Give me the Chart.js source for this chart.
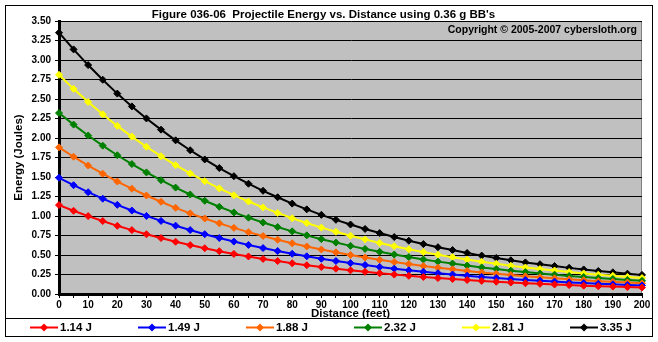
<!DOCTYPE html>
<html>
<head>
<meta charset="utf-8">
<script src="https://cdn.jsdelivr.net/npm/chart.js@4"></script>
<style>
  html, body { margin: 0; padding: 0; background: #fff; }
</style>
</head>
<body>
<canvas id="chart" width="658" height="342"></canvas>
<script>
// distance in feet, one point every 5 ft
const distances = [0, 5, 10, 15, 20, 25, 30, 35, 40, 45, 50, 55, 60, 65, 70, 75, 80, 85, 90, 95,
  100, 105, 110, 115, 120, 125, 130, 135, 140, 145, 150, 155, 160, 165, 170, 175, 180, 185, 190, 195, 200];

// energy in joules
const e114 = [1.14, 1.067, 0.999, 0.935, 0.874, 0.819, 0.766, 0.717, 0.670, 0.627, 0.587, 0.549, 0.514, 0.481,
  0.450, 0.422, 0.394, 0.369, 0.345, 0.324, 0.303, 0.284, 0.266, 0.249, 0.233, 0.218, 0.204, 0.192, 0.179,
  0.168, 0.157, 0.147, 0.138, 0.130, 0.122, 0.114, 0.107, 0.100, 0.095, 0.089, 0.083];
const e149 = [1.49, 1.395, 1.305, 1.222, 1.143, 1.070, 1.001, 0.937, 0.876, 0.820, 0.767, 0.718, 0.672, 0.629,
  0.589, 0.551, 0.516, 0.483, 0.451, 0.423, 0.396, 0.371, 0.347, 0.325, 0.304, 0.285, 0.267, 0.250, 0.234,
  0.219, 0.206, 0.192, 0.180, 0.170, 0.159, 0.149, 0.140, 0.131, 0.124, 0.116, 0.109];
const e188 = [1.88, 1.760, 1.647, 1.542, 1.442, 1.350, 1.263, 1.183, 1.105, 1.034, 0.968, 0.906, 0.848, 0.793,
  0.743, 0.696, 0.650, 0.609, 0.570, 0.534, 0.500, 0.468, 0.438, 0.410, 0.384, 0.359, 0.337, 0.316, 0.295,
  0.276, 0.259, 0.243, 0.227, 0.214, 0.201, 0.188, 0.177, 0.165, 0.156, 0.147, 0.137];
const e232 = [2.32, 2.172, 2.032, 1.902, 1.779, 1.666, 1.559, 1.459, 1.364, 1.276, 1.195, 1.118, 1.046, 0.979,
  0.916, 0.858, 0.803, 0.752, 0.703, 0.659, 0.617, 0.578, 0.541, 0.506, 0.473, 0.443, 0.415, 0.390, 0.364,
  0.341, 0.320, 0.299, 0.281, 0.264, 0.248, 0.232, 0.218, 0.204, 0.193, 0.181, 0.169];
const e281 = [2.81, 2.630, 2.462, 2.304, 2.155, 2.018, 1.888, 1.767, 1.652, 1.546, 1.447, 1.354, 1.267, 1.186,
  1.110, 1.040, 0.972, 0.910, 0.851, 0.798, 0.747, 0.700, 0.655, 0.613, 0.573, 0.537, 0.503, 0.472, 0.441,
  0.413, 0.388, 0.362, 0.340, 0.320, 0.301, 0.281, 0.264, 0.247, 0.233, 0.219, 0.205];
const e335 = [3.35, 3.136, 2.935, 2.747, 2.569, 2.405, 2.251, 2.107, 1.970, 1.843, 1.725, 1.615, 1.511, 1.414,
  1.323, 1.240, 1.159, 1.085, 1.015, 0.951, 0.891, 0.834, 0.781, 0.730, 0.683, 0.640, 0.600, 0.563, 0.526,
  0.492, 0.462, 0.432, 0.405, 0.382, 0.358, 0.335, 0.315, 0.295, 0.278, 0.261, 0.245];

const seriesNames = ['1.14 J', '1.49 J', '1.88 J', '2.32 J', '2.81 J', '3.35 J'];
const seriesColors = ['#ff0000', '#0000ff', '#ff6600', '#008000', '#ffff00', '#000000'];
const seriesData = [e114, e149, e188, e232, e281, e335];

const FONT = '"Liberation Sans", Arial, sans-serif';

const frame = {
  id: 'frame',
  beforeDraw(chart) {
    const ctx = chart.ctx;
    const a = chart.chartArea;
    ctx.save();
    ctx.fillStyle = '#ffffff';
    ctx.fillRect(0, 0, chart.width, chart.height);
    ctx.fillStyle = '#c0c0c0';
    ctx.fillRect(a.left, a.top, a.right - a.left, a.bottom - a.top);
    ctx.strokeStyle = '#808080';
    ctx.lineWidth = 1;
    ctx.strokeRect(a.left + 0.5, a.top + 0.5, a.right - a.left - 1, a.bottom - a.top - 1);
    ctx.restore();
  },
  afterDraw(chart) {
    const ctx = chart.ctx;
    const a = chart.chartArea;
    ctx.save();
    // outer border + legend box
    ctx.strokeStyle = '#000';
    ctx.lineWidth = 1;
    ctx.strokeRect(5.5, 5.5, 647, 331);
    ctx.beginPath();
    ctx.moveTo(5, 318.5);
    ctx.lineTo(653, 318.5);
    ctx.stroke();

    // copyright note
    ctx.font = 'bold 10.5px ' + FONT;
    ctx.fillStyle = '#000';
    ctx.textAlign = 'right';
    ctx.textBaseline = 'middle';
    ctx.fillText('Copyright \u00a9 2005-2007 cybersloth.org', a.right - 5, 30.5);

    // legend
    chart.data.datasets.forEach((ds, i) => {
      const x0 = 30 + 108 * i;
      const y = 327.5;
      ctx.strokeStyle = ds.borderColor;
      ctx.lineWidth = 2;
      ctx.beginPath();
      ctx.moveTo(x0, y);
      ctx.lineTo(x0 + 28, y);
      ctx.stroke();
      ctx.fillStyle = ds.backgroundColor;
      ctx.beginPath();
      ctx.moveTo(x0 + 14, y - 4);
      ctx.lineTo(x0 + 18, y);
      ctx.lineTo(x0 + 14, y + 4);
      ctx.lineTo(x0 + 10, y);
      ctx.closePath();
      ctx.fill();
      ctx.fillStyle = '#000';
      ctx.font = 'bold 11.5px ' + FONT;
      ctx.textAlign = 'left';
      ctx.fillText(ds.label, x0 + 30, y + 0.5);
    });
    ctx.restore();
  }
};

new Chart(document.getElementById('chart'), {
  type: 'line',
  data: {
    labels: distances,
    datasets: seriesData.map((d, i) => ({
      label: seriesNames[i],
      data: d,
      borderColor: seriesColors[i],
      backgroundColor: seriesColors[i],
      borderWidth: 2,
      pointStyle: 'rectRot',
      pointRadius: 3.5,
      pointBorderWidth: 1,
      tension: 0
    }))
  },
  options: {
    responsive: false,
    animation: false,
    layout: { padding: { left: 5, right: 16, top: 0, bottom: 21 } },
    plugins: {
      legend: { display: false },
      tooltip: { enabled: false },
      title: {
        display: true,
        text: "Figure 036-06  Projectile Energy vs. Distance using 0.36 g BB's",
        color: '#000',
        font: { family: FONT, size: 11.5, weight: 'bold', lineHeight: 1 },
        padding: { top: 9.5, bottom: 0 }
      }
    },
    scales: {
      x: {
        type: 'category',
        offset: false,
        afterFit: s => { s.height = 27; },
        border: { color: '#000', width: 3 },
        grid: { drawOnChartArea: false, drawTicks: true, tickLength: 4, color: '#000' },
        ticks: {
          autoSkip: false,
          maxRotation: 0,
          minRotation: 0,
          padding: 1,
          color: '#000',
          font: { family: FONT, size: 10, weight: 'bold' },
          callback: (v, i) => (distances[i] % 10 === 0 ? String(distances[i]) : '')
        },
        title: {
          display: true,
          text: 'Distance (feet)',
          color: '#000',
          font: { family: FONT, size: 11.5, weight: 'bold' },
          padding: { top: 0, bottom: 0 }
        }
      },
      y: {
        min: 0,
        max: 3.5,
        afterFit: s => { s.width = 54; },
        border: { color: '#000', width: 3 },
        grid: { color: '#000', lineWidth: 1, tickLength: 4 },
        ticks: {
          stepSize: 0.25,
          padding: 4,
          color: '#000',
          font: { family: FONT, size: 10, weight: 'bold' },
          callback: v => v.toFixed(2)
        },
        title: {
          display: true,
          text: 'Energy (Joules)',
          color: '#000',
          font: { family: FONT, size: 11.5, weight: 'bold' },
          padding: { top: 7, bottom: 0 }
        }
      }
    }
  },
  plugins: [frame]
});
</script>
</body>
</html>
